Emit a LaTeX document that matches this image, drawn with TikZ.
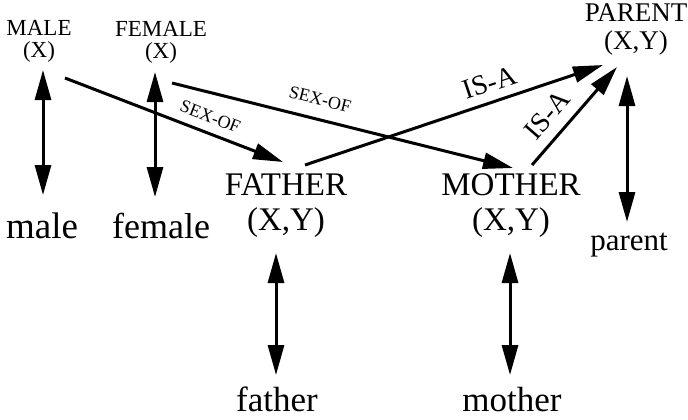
\documentclass[tikz,border=0pt]{standalone}
\usepackage{fontspec}
\setmainfont{Liberation Serif}
\usetikzlibrary{arrows.meta,calc}
\newcommand\fsz[2]{\fontsize{#1}{#2}\selectfont}
\begin{document}
\begin{tikzpicture}[x=0.5pt,y=-0.5pt,
  every node/.style={inner sep=0pt, outer sep=0pt},
  concept/.style={align=center},
  word/.style={anchor=base},
  link/.style={line width=1.5pt, -{Triangle[length=15pt,width=8pt]}},
  twoway/.style={line width=1.5pt, {Triangle[length=15pt,width=8pt]}-{Triangle[length=15pt,width=8pt]}},
  rel/.style={sloped, font=\fsz{9}{9}},
  isa/.style={sloped, font=\fsz{14}{14}}]
\useasboundingbox (0,0) rectangle (688,419);

% predicate concepts
\node[concept, font=\fsz{11.5}{11}] (MALE)   at (39,41)  {MALE\\(X)};
\node[concept, font=\fsz{11.5}{11}] (FEMALE) at (161,42) {FEMALE\\(X)};
\node[concept, font=\fsz{13.5}{14}] (PARENT) at (636,29) {PARENT\\(X,Y)};
\node[concept, font=\fsz{16.5}{17.5}] (FATHER) at (286,206) {FATHER\\(X,Y)};
\node[concept, font=\fsz{16.5}{17.5}] (MOTHER) at (511,206) {MOTHER\\(X,Y)};

% English words
\node[word, font=\fsz{18.5}{18}] (male)   at (42,238)  {male};
\node[word, font=\fsz{18}{18}] (female) at (161,238) {female};
\node[word, font=\fsz{15.5}{15}] (parent) at (629,250) {parent};
\node[word, font=\fsz{17.5}{17}] (father) at (277,411) {father};
\node[word, font=\fsz{17.5}{17}] (mother) at (512,411) {mother};

% word <-> concept links
\draw[twoway] ($(male.base)+(1,-168)$)   -- ($(male.base)+(1,-43)$);
\draw[twoway] ($(female.base)+(-6,-166)$) -- ($(female.base)+(-6,-41)$);
\draw[twoway] ($(parent.base)+(-2,-174)$) -- ($(parent.base)+(-2,-28)$);
\draw[twoway] ($(father.base)+(-1,-158)$) -- ($(father.base)+(-1,-36)$);
\draw[twoway] ($(mother.base)+(-2,-158)$) -- ($(mother.base)+(-2,-36)$);

% relations between concepts
\draw[link] ($(MALE)+(26,37)$) -- node[rel, pos=0.64, above=5pt] {SEX-OF} ($(FATHER)+(-3,-44)$);
\draw[link] ($(FEMALE)+(11,41)$) -- node[rel, pos=0.42, above=7pt] {SEX-OF} ($(MOTHER)+(2,-38)$);
\draw[link] ($(FATHER)+(19,-41)$) -- node[isa, pos=0.64, above=5pt] {IS-A} ($(PARENT)+(-33,36)$);
\draw[link] ($(MOTHER)+(21,-41)$) -- node[isa, pos=0.37, above=6pt] {IS-A} ($(PARENT)+(-19,38)$);
\end{tikzpicture}
\end{document}
